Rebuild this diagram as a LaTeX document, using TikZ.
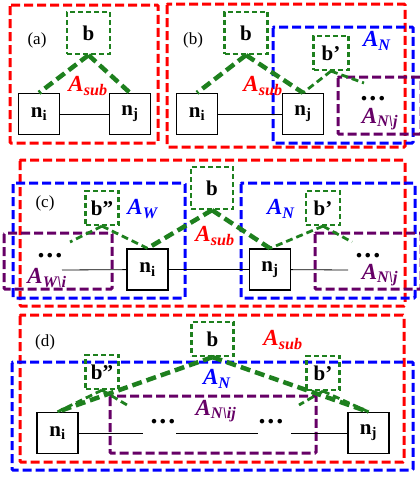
\documentclass[tikz,border=0pt]{standalone}
\usepackage{fontspec}
\setmainfont{Liberation Serif}
\usetikzlibrary{positioning}
\definecolor{setred}{RGB}{255,0,0}
\definecolor{setblue}{RGB}{0,0,255}
\definecolor{setgreen}{RGB}{30,128,30}
\definecolor{setpurple}{RGB}{102,0,102}
\newcommand{\Aset}[1]{\textbf{\textit{A}}\textsubscript{\textbf{\textit{#1}}}}
\newcommand{\nsub}[1]{n\textsubscript{#1}}

\begin{document}
\begin{tikzpicture}[x=1pt,y=-1pt,
  nbox/.style={draw,line width=1.3pt,minimum width=41pt,minimum height=41pt,inner sep=0pt,font=\fontsize{21}{21}\selectfont\bfseries},
  bbox/.style={draw=setgreen,line width=2.2pt,dash pattern=on 5pt off 3pt,inner sep=0pt,font=\fontsize{21}{21}\selectfont\bfseries},
  subreg/.style={draw=setred,line width=3pt,dash pattern=on 9pt off 4pt,rounded corners=1pt},
  nreg/.style={draw=setblue,line width=3pt,dash pattern=on 9pt off 4pt,rounded corners=1pt},
  restreg/.style={draw=setpurple,line width=3pt,dash pattern=on 9pt off 4pt,rounded corners=1pt},
  tie/.style={draw=setgreen,line width=4.5pt,dash pattern=on 10pt off 5pt},
  thintie/.style={draw=setgreen,line width=2.8pt,dash pattern=on 7pt off 4pt},
  link/.style={draw,line width=0.8pt},
  tag/.style={font=\fontsize{17}{17}\selectfont},
  lab/.style={font=\fontsize{23}{23}\selectfont},
  dots/.style={font=\fontsize{28}{28}\selectfont\bfseries,anchor=base,inner sep=0pt}]
\useasboundingbox (0,0) rectangle (420,479);

% (a)
\draw[subreg] (10,5) rectangle (158,143);
\node[bbox,minimum width=43pt,minimum height=42pt] (ba) at (88.5,33) {b};
\node[nbox] (nia) at (39,114) {\nsub{i}};
\node[nbox] (nja) at (130,114) {\nsub{j}};
\node[tag] at (37,40) {(a)};
\node[lab,text=setred] at (88,86) {\Aset{sub}};
\draw[link] (nia) -- (nja);
\draw[tie] (ba.south) -- (nia.north);
\draw[tie] (ba.south) -- (nja.north);

% (b)
\draw[subreg] (167,4) rectangle (405,147);
\draw[nreg] (273,27) rectangle (413,143);
\draw[restreg] (338,77) rectangle (421,134);
\node[bbox,minimum width=43pt,minimum height=42pt] (bb) at (246,33) {b};
\node[bbox,minimum width=35pt,minimum height=34pt] (bpb) at (331,53) {b’};
\node[nbox] (nib) at (197,114) {\nsub{i}};
\node[nbox] (njb) at (303,114) {\nsub{j}};
\coordinate (eb) at (364,83);
\node[tag] at (193,40) {(b)};
\node[lab,text=setred] at (263,86) {\Aset{sub}};
\node[lab,text=setblue] at (377,41) {\Aset{N}};
\node[dots] at (373,100) {.\hspace{2pt}.\hspace{2pt}.};
\node[lab,text=setpurple] at (380,119) {\Aset{N\textbackslash j}};
\draw[link] (nib) -- (njb);
\draw[tie] (bb.south) -- (nib.north);
\draw[tie] (bb.south) -- (njb.north);
\draw[thintie] (bpb.south) -- (njb.north);
\draw[thintie] (bpb.south) -- (eb);

% (c)
\draw[subreg] (20,160) rectangle (405,306);
\draw[nreg] (13,183) rectangle (185,298);
\draw[restreg] (4,233) rectangle (112,289);
\draw[nreg] (241,183) rectangle (415,298);
\draw[restreg] (315,233) rectangle (421,289);
\node[bbox,minimum width=42pt,minimum height=42pt] (bc) at (212,188) {b};
\node[bbox,minimum width=33pt,minimum height=34pt] (bppc) at (102,208) {b”};
\node[bbox,minimum width=34pt,minimum height=34pt] (bpc) at (323,208) {b’};
\node[nbox] (nic) at (147.5,269.5) {\nsub{i}};
\node[nbox] (njc) at (270,269.5) {\nsub{j}};
\coordinate (lc) at (62,270);
\coordinate (rc) at (348,270);
\coordinate (elc) at (70,242);
\coordinate (erc) at (352,242);
\node[tag] at (45,203) {(c)};
\node[lab,text=setblue] at (143,209) {\Aset{W}};
\node[lab,text=setred] at (215,236) {\Aset{sub}};
\node[lab,text=setblue] at (281,209) {\Aset{N}};
\node[dots] at (50,257) {.\hspace{2pt}.\hspace{2pt}.};
\node[lab,text=setpurple] at (47,278) {\Aset{W\textbackslash i}};
\node[dots] at (368,257) {.\hspace{2pt}.\hspace{2pt}.};
\node[lab,text=setpurple] at (380,275) {\Aset{N\textbackslash j}};
\draw[link] (lc) -- (nic) -- (njc) -- (rc);
\draw[tie] (bc.south) -- (nic.north);
\draw[tie] (bc.south) -- (njc.north);
\draw[thintie] (bppc.south) -- (nic.north);
\draw[thintie] (bppc.south) -- (elc);
\draw[thintie] (bpc.south) -- (njc.north);
\draw[thintie] (bpc.south) -- (erc);

% (d)
\draw[subreg] (20,315) rectangle (404,462);
\draw[nreg] (12,362) rectangle (413,470);
\draw[restreg] (110,396) rectangle (316,453);
\node[bbox,minimum width=42pt,minimum height=34pt] (bd) at (212.5,339) {b};
\node[bbox,minimum width=33pt,minimum height=34pt] (bppd) at (102,372) {b”};
\node[bbox,minimum width=33pt,minimum height=34pt] (bpd) at (323,373) {b’};
\node[nbox] (nid) at (57.5,433) {\nsub{i}};
\node[nbox] (njd) at (368.5,433) {\nsub{j}};
\coordinate (g1) at (143,433);
\coordinate (g2) at (176,433);
\coordinate (g3) at (258,433);
\coordinate (g4) at (291,433);
\coordinate (eld) at (127,405);
\coordinate (erd) at (299,405);
\node[tag] at (45,342) {(d)};
\node[lab,text=setred] at (283,340) {\Aset{sub}};
\node[lab,text=setblue] at (217,379) {\Aset{N}};
\node[dots] at (163,423) {.\hspace{2pt}.\hspace{2pt}.};
\node[lab,text=setpurple] at (216,411) {\Aset{N\textbackslash ij}};
\node[dots] at (271,423) {.\hspace{2pt}.\hspace{2pt}.};
\draw[link] (nid) -- (g1);
\draw[link] (g2) -- (g3);
\draw[link] (g4) -- (njd);
\draw[tie] (bd.south) -- (nid.north);
\draw[tie] (bd.south) -- (njd.north);
\draw[thintie] (bppd.south) -- (nid.north);
\draw[thintie] (bppd.south) -- (eld);
\draw[thintie] (bpd.south) -- (njd.north);
\draw[thintie] (bpd.south) -- (erd);
\end{tikzpicture}
\end{document}
